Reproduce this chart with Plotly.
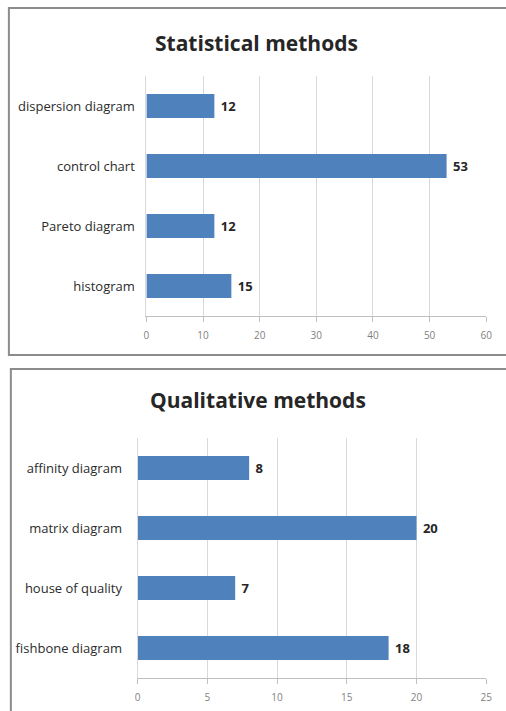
import plotly.graph_objects as go

# Statistical methods (listed bottom to top)
stat_categories = ["histogram", "Pareto diagram", "control chart", "dispersion diagram"]
stat_values = [15, 12, 53, 12]
stat_ticks = [0, 10, 20, 30, 40, 50, 60]

# Qualitative methods (listed bottom to top)
qual_categories = ["fishbone diagram", "house of quality", "matrix diagram", "affinity diagram"]
qual_values = [18, 7, 20, 8]
qual_ticks = [0, 5, 10, 15, 20, 25]

W, H = 506, 711
BAR_COLOR = "#4F81BD"
GRID = "#d9d9d9"
FONT = "Open Sans"


def px_x(v):
    return v / W


def px_y(v):
    return 1 - v / H


fig = go.Figure()

for vals, cats, xa, ya in [(stat_values, stat_categories, "x", "y"),
                           (qual_values, qual_categories, "x2", "y2")]:
    fig.add_trace(go.Bar(
        x=vals, y=cats, orientation="h",
        marker=dict(color=BAR_COLOR, line=dict(width=0)),
        texttemplate="\u00a0<b>%{x}</b>", textposition="outside",
        textfont=dict(family=FONT, size=13, color="#262626"),
        cliponaxis=False, xaxis=xa, yaxis=ya, showlegend=False,
    ))

xcommon = dict(
    showgrid=True, gridcolor=GRID, gridwidth=1,
    showline=True, linecolor="#bfbfbf", linewidth=1,
    ticks="outside", ticklen=5, tickcolor="#bfbfbf",
    ticklabelstandoff=5,
    tickfont=dict(family=FONT, size=10, color="#7f7f7f"),
    zeroline=False, fixedrange=True,
)
ycommon = dict(
    showgrid=False, showline=True, linecolor="#d9d9d9", linewidth=1,
    ticks="", tickfont=dict(family=FONT, size=13, color="#2b2b2b"),
    fixedrange=True,
)

fig.update_layout(
    width=W, height=H,
    margin=dict(l=0, r=0, t=0, b=0),
    paper_bgcolor="white", plot_bgcolor="white",
    bargap=0.6,
    xaxis=dict(domain=[px_x(146), px_x(492)], range=[0, 60],
               tickvals=stat_ticks, anchor="y", **xcommon),
    yaxis=dict(domain=[px_y(316), px_y(76)], anchor="x",
               categoryorder="array", categoryarray=stat_categories,
               ticklabelstandoff=8, **ycommon),
    xaxis2=dict(domain=[px_x(137), px_x(492)], range=[0, 25],
                tickvals=qual_ticks, anchor="y2", **xcommon),
    yaxis2=dict(domain=[px_y(678), px_y(438)], anchor="x2",
                categoryorder="array", categoryarray=qual_categories,
                ticklabelstandoff=12, **ycommon),
    annotations=[
        dict(text="<b>Statistical methods</b>", x=px_x(258), y=px_y(43),
             xref="paper", yref="paper", xanchor="center", yanchor="middle",
             showarrow=False,
             font=dict(family=FONT, size=21, color="#262626")),
        dict(text="<b>Qualitative methods</b>", x=px_x(260), y=px_y(400),
             xref="paper", yref="paper", xanchor="center", yanchor="middle",
             showarrow=False,
             font=dict(family=FONT, size=21, color="#262626")),
    ],
    shapes=[
        dict(type="rect", xref="paper", yref="paper",
             x0=px_x(6), x1=1.05, y0=px_y(355), y1=px_y(8),
             line=dict(color="#8c8c8c", width=2), fillcolor="rgba(0,0,0,0)"),
        dict(type="rect", xref="paper", yref="paper",
             x0=px_x(8), x1=1.05, y0=-0.05, y1=px_y(369),
             line=dict(color="#8c8c8c", width=2), fillcolor="rgba(0,0,0,0)"),
    ],
)

fig.write_html("out.html")
